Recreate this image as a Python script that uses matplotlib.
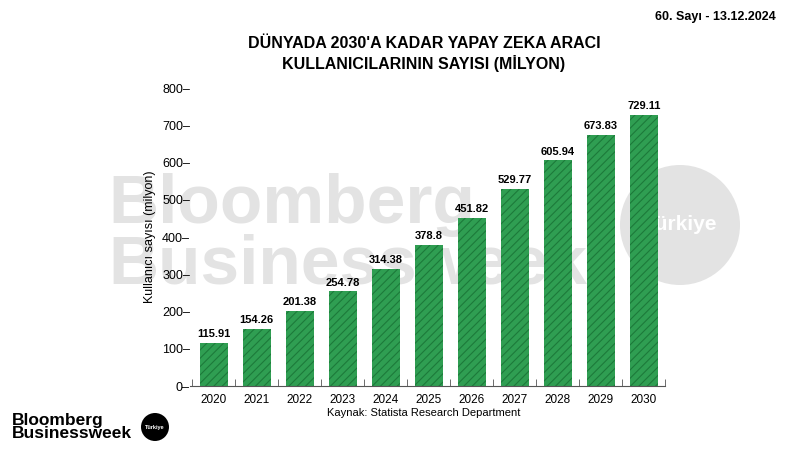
import matplotlib
matplotlib.use('Agg')
import matplotlib.pyplot as plt
from matplotlib.patches import Circle

years = ["2020", "2021", "2022", "2023", "2024", "2025", "2026", "2027", "2028", "2029", "2030"]
users = [115.91, 154.26, 201.38, 254.78, 314.38, 378.8, 451.82, 529.77, 605.94, 673.83, 729.11]
labels = ["115.91", "154.26", "201.38", "254.78", "314.38", "378.8", "451.82", "529.77", "605.94", "673.83", "729.11"]

plt.rcParams['font.family'] = ['Liberation Sans', 'DejaVu Sans']
plt.rcParams['hatch.linewidth'] = 0.8

fig = plt.figure(figsize=(8, 4.5), dpi=100)

# watermark behind the chart
wm = '#e3e3e3'
fig.text(0.135, 0.505, "Bloomberg", fontsize=50, fontweight='bold', color=wm, zorder=0)
fig.text(0.135, 0.37, "Businessweek", fontsize=50, fontweight='bold', color=wm, zorder=0)
fig.patches.append(Circle((6.8, 2.25), 0.6, transform=fig.dpi_scale_trans,
                          facecolor=wm, edgecolor='none', zorder=0))
fig.text(0.85, 0.5, "Türkiye", fontsize=15, fontweight='bold', color='white',
         ha='center', va='center', zorder=1)

ax = fig.add_axes([0.2375, 0.142, 0.594, 0.662])
ax.set_zorder(2)
ax.patch.set_alpha(0)
x = range(len(years))
ax.bar(x, users, width=0.65, color='#2f9e52', edgecolor='#1d7a3a', hatch='////', linewidth=0)
for i, v in enumerate(users):
    ax.text(i, v + 10, labels[i], ha='center', va='bottom', fontsize=8, fontweight='bold')

ax.set_xlim(-0.55, 10.45)
ax.set_ylim(0, 800)
ax.set_yticks(range(0, 801, 100))
ax.set_yticklabels([f"{t}\u2013" for t in range(0, 801, 100)], fontsize=9)
ax.tick_params(axis='y', length=0, pad=0)
ax.set_xticks(list(x))
ax.set_xticklabels(years, fontsize=8.5)
ax.tick_params(axis='x', length=0, pad=6)
ax.set_xticks([i + 0.5 for i in range(-1, 11)], minor=True)
ax.tick_params(axis='x', which='minor', length=5, direction='in', color='#555555')
for s in ['top', 'right', 'left']:
    ax.spines[s].set_visible(False)
ax.spines['bottom'].set_color('#555555')
ax.set_ylabel("Kullanıcı sayısı (milyon)", fontsize=9)

fig.text(0.53, 0.88, "DÜNYADA 2030'A KADAR YAPAY ZEKA ARACI\nKULLANICILARININ SAYISI (MİLYON)",
         ha='center', va='center', fontsize=11.5, fontweight='bold', linespacing=1.3)
fig.text(0.53, 0.075, "Kaynak: Statista Research Department", ha='center', fontsize=8)
fig.text(0.97, 0.955, "60. Sayı - 13.12.2024", ha='right', fontsize=9, fontweight='bold')

fig.text(0.015, 0.02, "Bloomberg\nBusinessweek", fontsize=12.5, fontweight='bold',
         linespacing=0.85, va='bottom')
fig.patches.append(Circle((1.55, 0.23), 0.14, transform=fig.dpi_scale_trans,
                          facecolor='black', zorder=2))
fig.text(1.55 / 8, 0.23 / 4.5, "Türkiye", fontsize=4, color='white', ha='center', va='center',
         fontweight='bold', zorder=3)

fig.savefig("out.png", dpi=100)
